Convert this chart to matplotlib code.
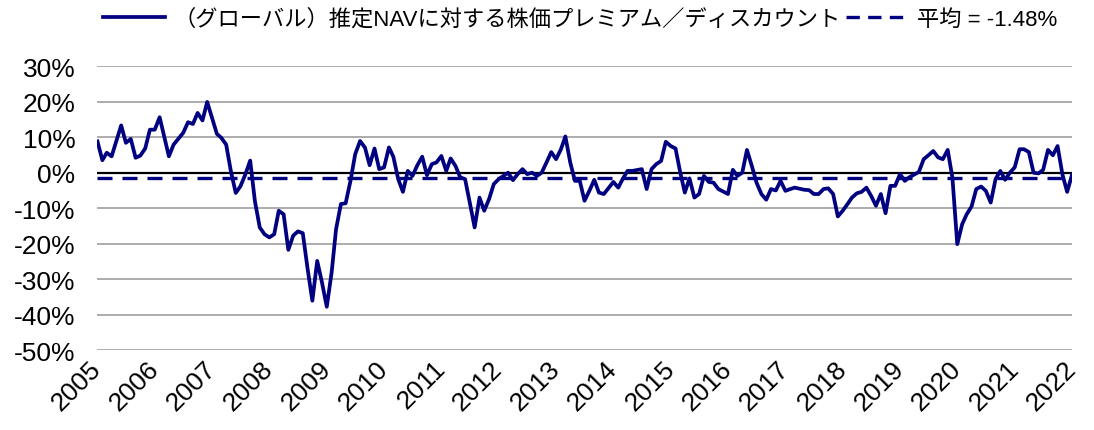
import pandas as pd
import matplotlib
matplotlib.use("Agg")
import matplotlib.pyplot as plt
from matplotlib.lines import Line2D

plt.rcParams['font.family'] = ['Liberation Sans', 'Noto Sans CJK JP']

# monthly premium / discount to estimated NAV (%)
dates = [
    "2005-01", "2005-02", "2005-03", "2005-04", "2005-06", "2005-07", "2005-08", "2005-09",
    "2005-10", "2005-11", "2005-12", "2006-01", "2006-02", "2006-04", "2006-05", "2006-07",
    "2006-08", "2006-09", "2006-10", "2006-11", "2006-12", "2007-02", "2007-03", "2007-04",
    "2007-05", "2007-06", "2007-07", "2007-08", "2007-09", "2007-10", "2007-11", "2007-12",
    "2008-01", "2008-02", "2008-03", "2008-04", "2008-05", "2008-06", "2008-07", "2008-08",
    "2008-09", "2008-10", "2008-11", "2008-12", "2009-01", "2009-02", "2009-03", "2009-04",
    "2009-05", "2009-06", "2009-07", "2009-08", "2009-09", "2009-10", "2009-11", "2009-12",
    "2010-01", "2010-02", "2010-03", "2010-04", "2010-05", "2010-06", "2010-07", "2010-08",
    "2010-09", "2010-10", "2010-11", "2010-12", "2011-01", "2011-02", "2011-03", "2011-04",
    "2011-05", "2011-06", "2011-07", "2011-08", "2011-09", "2011-10", "2011-11", "2011-12",
    "2012-01", "2012-02", "2012-03", "2012-04", "2012-05", "2012-06", "2012-07", "2012-08",
    "2012-09", "2012-10", "2012-11", "2012-12", "2013-01", "2013-02", "2013-03", "2013-04",
    "2013-05", "2013-06", "2013-07", "2013-08", "2013-09", "2013-10", "2013-11", "2014-01",
    "2014-02", "2014-03", "2014-04", "2014-05", "2014-07", "2014-08", "2014-09", "2014-10",
    "2014-11", "2014-12", "2015-01", "2015-02", "2015-03", "2015-04", "2015-05", "2015-06",
    "2015-07", "2015-08", "2015-09", "2015-10", "2015-11", "2016-01", "2016-02", "2016-03",
    "2016-04", "2016-05", "2016-06", "2016-07", "2016-08", "2016-09", "2016-10", "2016-11",
    "2016-12", "2017-01", "2017-02", "2017-03", "2017-05", "2017-06", "2017-07", "2017-08",
    "2017-09", "2017-10", "2017-11", "2017-12", "2018-01", "2018-02", "2018-03", "2018-04",
    "2018-05", "2018-06", "2018-07", "2018-08", "2018-09", "2018-10", "2018-11", "2018-12",
    "2019-01", "2019-02", "2019-03", "2019-05", "2019-06", "2019-07", "2019-08", "2019-09",
    "2019-10", "2019-11", "2019-12", "2020-01", "2020-02", "2020-03", "2020-04", "2020-05",
    "2020-06", "2020-07", "2020-08", "2020-09", "2020-10", "2020-11", "2020-12", "2021-01",
    "2021-02", "2021-03", "2021-04", "2021-05", "2021-06", "2021-07", "2021-08", "2021-09",
    "2021-10", "2021-11", "2021-12", "2022-01",
]
premium = [
    8.8, 3.5, 5.6, 4.6, 13.3, 8.4, 9.5, 4.2,
    4.8, 6.8, 12.1, 12.1, 15.6, 4.6, 7.9, 11.2,
    14.2, 13.7, 16.8, 14.7, 19.9, 10.9, 9.8, 7.9,
    0.4, -5.7, -3.8, -0.5, 3.4, -8.0, -15.4, -17.3,
    -18.2, -17.3, -10.7, -11.7, -21.7, -17.7, -16.5, -17.0,
    -27.1, -36.0, -24.8, -30.8, -37.7, -28.0, -15.9, -8.8,
    -8.6, -2.3, 5.2, 8.9, 7.1, 2.1, 6.8, 1.0,
    1.5, 7.1, 4.5, -1.8, -5.4, 0.5, -0.9, 2.1,
    4.5, -0.7, 2.4, 2.9, 4.7, 0.5, 4.0, 1.9,
    -1.3, -1.8, -8.4, -15.4, -7.0, -10.7, -7.4, -3.2,
    -1.8, -0.9, 0.0, -2.1, -0.4, 1.0, -0.4, 0.0,
    -0.9, 0.0, 2.9, 5.8, 3.8, 6.6, 10.2, 2.9,
    -2.3, -2.3, -7.9, -5.1, -2.0, -5.6, -6.0, -2.6,
    -4.2, -1.8, 0.5, 0.5, 1.0, -4.6, 1.0, 2.4,
    3.3, 8.7, 7.5, 6.8, 0.5, -5.6, -1.6, -7.0,
    -6.0, -0.9, -2.6, -2.8, -4.6, -6.0, 0.8, -0.9,
    0.0, 6.4, 1.9, -2.8, -6.0, -7.6, -4.6, -5.0,
    -2.3, -5.1, -4.6, -4.2, -4.8, -4.9, -6.0, -6.0,
    -4.6, -4.4, -6.0, -12.3, -10.7, -8.8, -7.0, -5.8,
    -5.4, -4.2, -6.5, -9.3, -6.0, -11.4, -3.7, -3.7,
    -0.4, -2.3, -1.3, 0.2, 3.8, 4.9, 6.1, 4.3,
    3.8, 6.4, -1.4, -20.1, -14.5, -11.7, -9.5, -4.6,
    -3.9, -5.1, -8.4, -1.8, 0.5, -2.0, 0.0, 1.5,
    6.6, 6.6, 5.8, 0.0, -0.2, 0.8, 6.4, 4.9,
    7.5, -0.5, -5.4, -0.6,
]
mean_value = -1.48
years = list(range(2005, 2023))
yticks = list(range(-50, 31, 10))

line_label = "（グローバル）推定NAVに対する株価プレミアム／ディスカウント"
mean_label = "平均 = -1.48%"
navy = "#000080"

x = pd.to_datetime(dates)
year_ticks = pd.to_datetime([f"{y}-01-01" for y in years])

fig = plt.figure(figsize=(10.94, 4.31), dpi=100)
ax = fig.add_axes([0.0891, 0.1845, 0.8908, 0.660])

for t in yticks:
    if t == 0:
        continue
    ax.axhline(t, color="#A6A6A6", lw=1.3, zorder=1)
ax.axhline(0, color="black", lw=1.6, zorder=2)

ax.plot(x, premium, color=navy, lw=2.7, zorder=4)
ax.axhline(mean_value, color=navy, lw=2.4, dashes=(4.5, 3), zorder=3)

ax.set_xlim(year_ticks[0], year_ticks[-1])
ax.set_ylim(-50, 30)
ax.set_yticks(yticks)
ax.set_yticklabels([f"{t}%" for t in yticks], fontsize=19)
ax.set_xticks(year_ticks)
ax.set_xticklabels([str(y) for y in years], fontsize=19, rotation=45,
                   ha="right", va="center", rotation_mode="anchor")
ax.tick_params(length=0)
ax.tick_params(axis="y", pad=16)
ax.tick_params(axis="x", pad=10)
for s in ax.spines.values():
    s.set_visible(False)

handles = [Line2D([], [], color=navy, lw=2.7),
           Line2D([], [], color=navy, lw=2.4, dashes=(4, 2.5))]
fig.legend(handles, [line_label, mean_label], loc="upper center",
           bbox_to_anchor=(0.53, 1.025), ncol=2, frameon=False, fontsize=16,
           handlelength=2.8, columnspacing=0.2, handletextpad=0.4)

fig.savefig("out.png", dpi=100)
